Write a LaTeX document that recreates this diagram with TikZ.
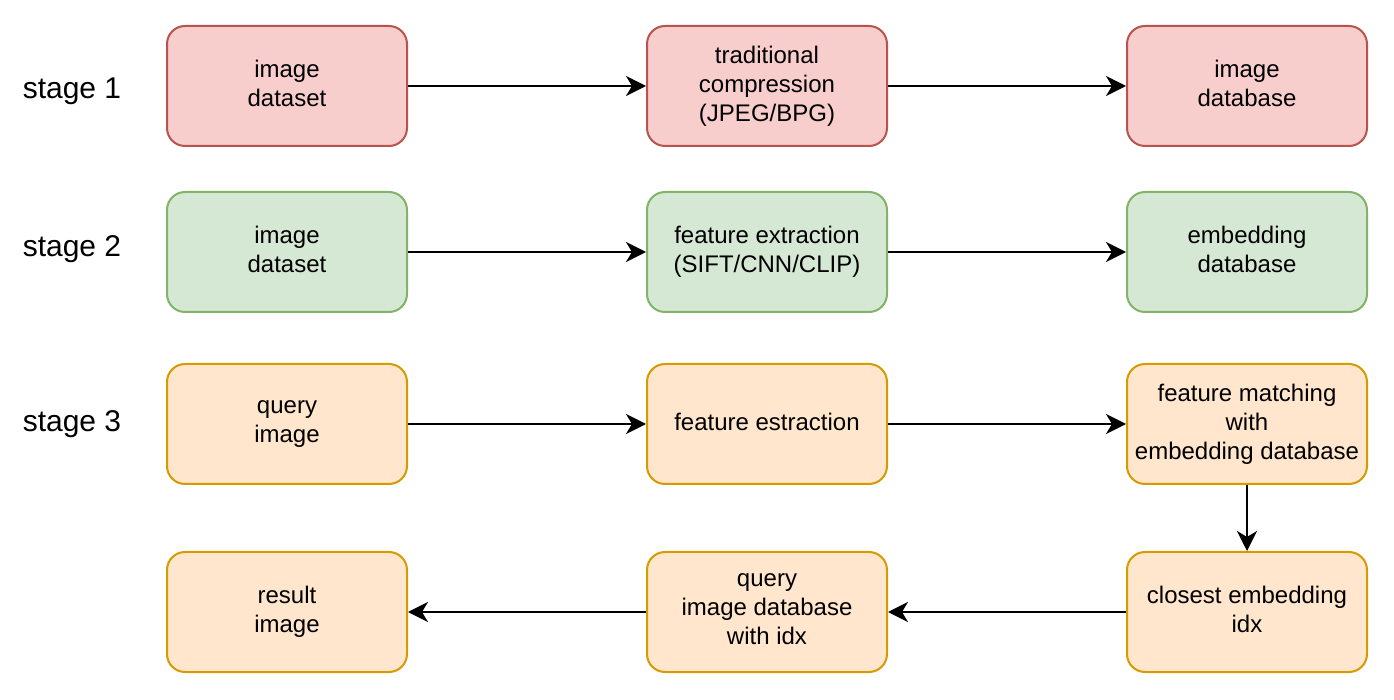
\documentclass[tikz,border=0pt]{standalone}
\usepackage{fontspec}
\setmainfont{Liberation Sans}
\usepackage{xcolor}
\usetikzlibrary{positioning,arrows.meta}
\definecolor{RedFill}{HTML}{F8CECC}
\definecolor{RedLine}{HTML}{B85450}
\definecolor{GreenFill}{HTML}{D5E8D4}
\definecolor{GreenLine}{HTML}{82B366}
\definecolor{OrangeFill}{HTML}{FFE6CC}
\definecolor{OrangeLine}{HTML}{D79B00}

\begin{document}
\begin{tikzpicture}[
  x=0.5pt, y=-0.5pt,
  every node/.style={font=\fontsize{12pt}{14.5pt}\selectfont},
  box/.style={rounded corners=9pt, line width=1pt,
              minimum height=60pt, minimum width=120pt,
              execute at begin node={\vphantom{(}},
              execute at end node={\vphantom{(}},
              inner sep=2pt, align=center, text=black},
  RB/.style={box, draw=RedLine,    fill=RedFill},
  GB/.style={box, draw=GreenLine,  fill=GreenFill},
  OB/.style={box, draw=OrangeLine, fill=OrangeFill},
  SL/.style={font=\fontsize{15pt}{18pt}\selectfont},
  arr/.style={-{Stealth[length=10pt,width=10pt,inset=3pt]}, line width=1pt, black},
]

  \useasboundingbox (0,0) rectangle (1394,700);

  % Stage labels
  \node[SL] (s1) at (72, 91)  {stage 1};
  \node[SL] (s2) at (72, 249) {stage 2};
  \node[SL] (s3) at (72, 424) {stage 3};

  % Stage 1
  \node[RB] (ds1)  at (287, 86)   {image\\dataset};
  \node[RB] (comp) at (767, 86)   {traditional\\compression\\(JPEG/BPG)};
  \node[RB] (idb)  at (1247, 86)  {image\\database};

  % Stage 2
  \node[GB] (ds2)  at (287, 252)  {image\\dataset};
  \node[GB] (fext) at (767, 252)  {feature extraction\\(SIFT/CNN/CLIP)};
  \node[GB] (edb)  at (1247, 252) {embedding\\database};

  % Stage 3
  \node[OB] (qimg) at (287, 424)  {query\\image};
  \node[OB] (fest) at (767, 424)  {feature estraction};
  \node[OB] (fmat) at (1247, 424) {feature matching\\with\\embedding database};
  \node[OB] (cidx) at (1247, 612) {closest embedding\\idx};
  \node[OB] (qdb)  at (767, 612)  {query\\image database\\with idx};
  \node[OB] (res)  at (287, 612)  {result\\image};

  % Arrows
  \draw[arr] (ds1) -- (comp);
  \draw[arr] (comp) -- (idb);
  \draw[arr] (ds2) -- (fext);
  \draw[arr] (fext) -- (edb);
  \draw[arr] (qimg) -- (fest);
  \draw[arr] (fest) -- (fmat);
  \draw[arr] (fmat) -- (cidx);
  \draw[arr] (cidx) -- (qdb);
  \draw[arr] (qdb) -- (res);

\end{tikzpicture}
\end{document}
